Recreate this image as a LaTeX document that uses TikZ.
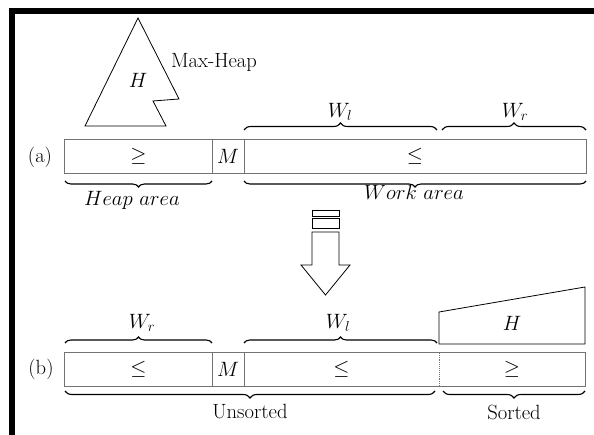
\documentclass[tikz,border=0pt]{standalone}
\usetikzlibrary{decorations.pathreplacing}
\begin{document}
\begin{tikzpicture}[x=1pt,y=-1pt,
  txt/.style={font=\fontsize{20.6}{24}\selectfont, inner sep=0pt},
  bigtxt/.style={font=\fontsize{21.6}{26}\selectfont, inner sep=0pt},
  cell/.style={inner sep=0pt, minimum height=33pt, font=\fontsize{20.6}{24}\selectfont},
  boxline/.style={draw=black!55, line width=0.9pt},
  shapeline/.style={draw=black, line width=0.8pt},
  brc/.style={decorate, decoration={brace, amplitude=#1}, line width=1.1pt},
  brc/.default=6pt]
\useasboundingbox (0,0) rectangle (594,435);
% frame
\fill[black] (9,8) rectangle (594,14);
\fill[black] (9,8) rectangle (15,435);

% ---- (a) ----
\draw[shapeline] (138,18) -- (179,99) -- (153,101) -- (166,126) -- (85,126) -- cycle;
\node[txt] (Ha) at (138,80) {$H$};
\node[txt] (maxheap) at (214,62) {Max-Heap};

\node[txt] (la) at (40,157) {(a)};
\node[cell, minimum width=147pt] (a1) at (138.5,156.5) {$\geq$};
\node[cell, minimum width=32pt] (a2) at (228,156.5) {$M$};
\node[cell, minimum width=342pt] (a3) at (415,156.5) {$\leq$};
\draw[boxline] (a1.north west) rectangle (a3.south east);
\draw[boxline] (a1.north east) -- (a1.south east);
\draw[boxline] (a2.north east) -- (a2.south east);

\draw[brc=7pt] (244,130) -- (437,130);
\draw[brc=7pt] (442,130) -- (586,130);
\node[txt] (wla) at (340,112) {$W_l$};
\node[txt] (wra) at (515,112) {$W_r$};

\draw[brc=6pt] (212,181) -- (65,181);
\draw[brc=6pt] (586,181) -- (244,181);
\node[bigtxt] (heaparea) at (132,200) {$Heap\ area$};
\node[bigtxt] (workarea) at (414,192) {$Work\ area$};

% ---- arrow ----
\draw[shapeline] (312,210) rectangle (339,216);
\draw[shapeline] (312,218) rectangle (339,228);
\draw[shapeline] (312,232) -- (312,265) -- (301,265) -- (325.5,295) -- (350,265) -- (339,265) -- (339,232) -- cycle;

% ---- (b) ----
\node[txt] (lb) at (41,369) {(b)};
\node[cell, minimum width=147pt] (b1) at (138.5,369.5) {$\leq$};
\node[cell, minimum width=32pt] (b2) at (228,369.5) {$M$};
\node[cell, minimum width=195pt] (b3) at (341.5,369.5) {$\leq$};
\node[cell, minimum width=146pt] (b4) at (512,369.5) {$\geq$};
\draw[boxline] (b1.north west) rectangle (b4.south east);
\draw[boxline] (b1.north east) -- (b1.south east);
\draw[boxline] (b2.north east) -- (b2.south east);
\draw[draw=black!55, line width=0.9pt, densely dotted] (b3.north east) -- (b3.south east);

\draw[brc=6pt] (65,343) -- (212,343);
\draw[brc=6pt] (244,343) -- (437,343);
\node[txt] (wrb) at (142,323) {$W_r$};
\node[txt] (wlb) at (338,323) {$W_l$};

\draw[shapeline] (439,344) -- (439,312) -- (585,287) -- (585,344) -- cycle;
\node[txt] (Hb) at (512,323) {$H$};

\draw[brc=7pt] (435,391) -- (65,391);
\draw[brc=7pt] (585,391) -- (443,391);
\node[txt] (unsorted) at (250,412) {Unsorted};
\node[txt] (sorted) at (514,412) {Sorted};
\end{tikzpicture}
\end{document}
